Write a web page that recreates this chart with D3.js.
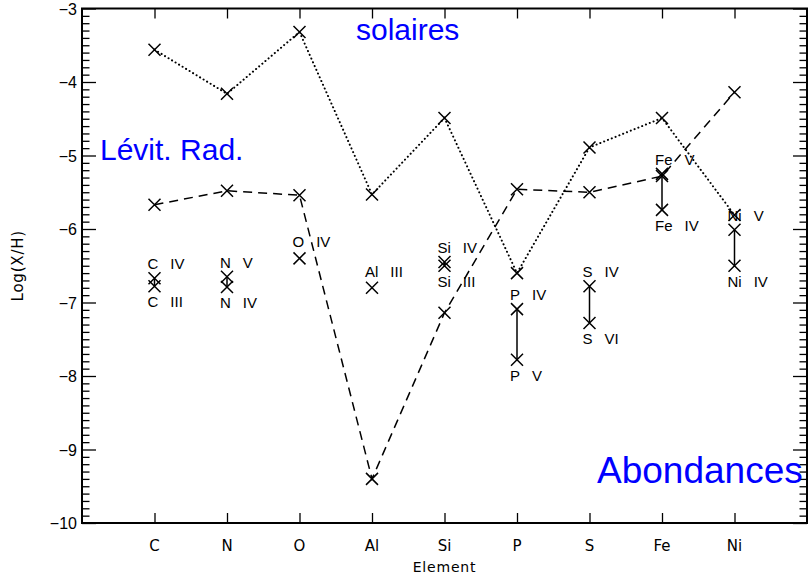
<!DOCTYPE html>
<html>
<head>
<meta charset="utf-8">
<script src="https://cdn.jsdelivr.net/npm/d3@7"></script>
<style>
  body { margin: 0; background: #fff; }
  svg { display: block; }
  .tick-label { font-family: "Liberation Sans", Arial, sans-serif; font-size: 16px; fill: #000; }
  .elem-label { font-family: "DejaVu Sans", sans-serif; font-size: 14px; fill: #000; }
  .ion { font-family: "Liberation Sans", Arial, sans-serif; font-size: 15px; fill: #000; }
  .big { font-family: "Liberation Sans", Arial, sans-serif; fill: #0000ff; }
</style>
</head>
<body>
<svg></svg>
<script>
const elements = ["C", "N", "O", "Al", "Si", "P", "S", "Fe", "Ni"]
const solaires = [-3.56, -4.16, -3.32, -5.53, -4.49, -6.60, -4.89, -4.49, -5.81]
const levitRad = [-5.67, -5.48, -5.54, -9.40, -7.14, -5.46, -5.50, -5.28, -4.14]
const ionNames = [["IV", "III"], ["V", "IV"], ["IV"], ["III"], ["IV", "III"], ["IV", "V"], ["IV", "VI"], ["V", "IV"], ["V", "IV"]]
const ionValues = [[-6.67, -6.78], [-6.65, -6.79], [-6.40], [-6.80], [-6.45, -6.50], [-7.09, -7.78], [-6.78, -7.28], [-5.25, -5.74], [-6.01, -6.50]]
const yTicks = [-10, -9, -8, -7, -6, -5, -4, -3]

const width = 808, height = 575
const plotLeft = 82, plotRight = 807, plotTop = 8.5, plotBottom = 523

const svg = d3.select("svg")
    .attr("width", width)
    .attr("height", height)

const x = d3.scaleLinear()
    .domain([0, 10])
    .range([plotLeft, plotRight])

const y = d3.scaleLinear()
    .domain([-10, -3])
    .range([plotBottom, plotTop])

const xPos = (d, i) => x(i + 1)

// axes: bottom / top share element ticks, left / right share y ticks
svg.append("g")
    .attr("transform", `translate(0, ${plotBottom})`)
    .call(d3.axisBottom(x).tickValues(d3.range(1, 10)).tickFormat(() => "").tickSize(-10).tickSizeOuter(0))

svg.append("g")
    .attr("transform", `translate(0, ${plotTop})`)
    .call(d3.axisTop(x).tickValues(d3.range(1, 10)).tickFormat(() => "").tickSize(-10).tickSizeOuter(0))

const minor = d3.range(-100, -29).map(d => d / 10).filter(d => Math.abs(d - Math.round(d)) > 1e-6)

svg.append("g")
    .attr("transform", `translate(${plotLeft}, 0)`)
    .call(d3.axisLeft(y).tickValues(minor).tickFormat(() => "").tickSize(-7.5).tickSizeOuter(0))

svg.append("g")
    .attr("transform", `translate(${plotLeft}, 0)`)
    .call(d3.axisLeft(y).tickValues(yTicks).tickFormat(() => "").tickSize(-14).tickSizeOuter(0))

svg.append("g")
    .attr("transform", `translate(${plotRight}, 0)`)
    .call(d3.axisRight(y).tickValues(minor).tickFormat(() => "").tickSize(-7.5).tickSizeOuter(0))

svg.append("g")
    .attr("transform", `translate(${plotRight}, 0)`)
    .call(d3.axisRight(y).tickValues(yTicks).tickFormat(() => "").tickSize(-14).tickSizeOuter(0))

svg.selectAll(".domain").remove()
svg.selectAll(".tick line").attr("stroke", "#000").attr("stroke-width", 1.3)

svg.append("rect")
    .attr("x", plotLeft)
    .attr("y", plotTop)
    .attr("width", plotRight - plotLeft)
    .attr("height", plotBottom - plotTop)
    .attr("fill", "none")
    .attr("stroke", "#000")
    .attr("stroke-width", 2)

// tick labels
svg.selectAll("text.ylab")
    .data(yTicks)
    .enter()
    .append("text")
    .attr("class", "tick-label ylab")
    .attr("x", 77)
    .attr("y", d => y(d) + 6)
    .attr("text-anchor", "end")
    .text(d => "\u2212" + Math.abs(d))

svg.selectAll("text.xlab")
    .data(elements)
    .enter()
    .append("text")
    .attr("class", "elem-label xlab")
    .attr("x", xPos)
    .attr("y", 551)
    .attr("text-anchor", "middle")
    .style("font-size", "15px")
    .text(d => d)

svg.append("text")
    .attr("class", "elem-label")
    .attr("x", (plotLeft + plotRight) / 2)
    .attr("y", 572)
    .attr("text-anchor", "middle")
    .style("letter-spacing", "0.8px")
    .text("Element")

svg.append("text")
    .attr("class", "elem-label")
    .attr("transform", `translate(23, ${(plotTop + plotBottom) / 2}) rotate(-90)`)
    .attr("text-anchor", "middle")
    .style("font-size", "15px")
    .style("letter-spacing", "0.8px")
    .text("Log(X/H)")

// lines
const line = d3.line()
    .x((d, i) => x(i + 1))
    .y(d => y(d))

svg.append("path")
    .datum(solaires)
    .attr("d", line)
    .attr("fill", "none")
    .attr("stroke", "#000")
    .attr("stroke-width", 2)
    .attr("stroke-linecap", "round")
    .attr("stroke-dasharray", "0.1,4")

svg.append("path")
    .datum(levitRad)
    .attr("d", line)
    .attr("fill", "none")
    .attr("stroke", "#000")
    .attr("stroke-width", 1.5)
    .attr("stroke-dasharray", "9,6")

// ion pairs: vertical connector
const ions = elements.map((e, i) => ({ el: e, i: i, names: ionNames[i], vals: ionValues[i] }))

svg.selectAll("line.pair")
    .data(ions.filter(d => d.vals.length > 1))
    .enter()
    .append("line")
    .attr("class", "pair")
    .attr("x1", d => x(d.i + 1))
    .attr("x2", d => x(d.i + 1))
    .attr("y1", d => y(d.vals[0]))
    .attr("y2", d => y(d.vals[1]))
    .attr("stroke", "#000")
    .attr("stroke-width", 1.5)

// markers
const cross = (g, px, py) => {
    const s = 6
    g.append("path")
        .attr("d", `M${px - s},${py - s}L${px + s},${py + s}M${px - s},${py + s}L${px + s},${py - s}`)
        .attr("stroke", "#000")
        .attr("stroke-width", 1.5)
        .attr("fill", "none")
}

const marks = svg.append("g")
solaires.forEach((d, i) => cross(marks, x(i + 1), y(d)))
levitRad.forEach((d, i) => cross(marks, x(i + 1), y(d)))
ions.forEach(d => d.vals.forEach(v => cross(marks, x(d.i + 1), y(v))))

// ion labels
ions.forEach(d => {
    d.names.forEach((n, k) => {
        const py = k === 0 ? y(d.vals[0]) - (d.vals.length > 1 ? 9 : 11) : y(d.vals[1]) + 21
        const t = svg.append("text")
            .attr("class", "ion")
            .attr("x", x(d.i + 1) - 7)
            .attr("y", py)
        t.append("tspan").text(d.el)
        t.append("tspan").attr("dx", 12).text(n)
    })
})

// blue annotations
svg.append("text")
    .attr("class", "big")
    .attr("x", 356)
    .attr("y", 40)
    .style("font-size", "30px")
    .text("solaires")

svg.append("text")
    .attr("class", "big")
    .attr("x", 100)
    .attr("y", 160)
    .style("font-size", "30px")
    .text("Lévit. Rad.")

svg.append("text")
    .attr("class", "big")
    .attr("x", 597)
    .attr("y", 483)
    .style("font-size", "37px")
    .text("Abondances")
</script>
</body>
</html>
